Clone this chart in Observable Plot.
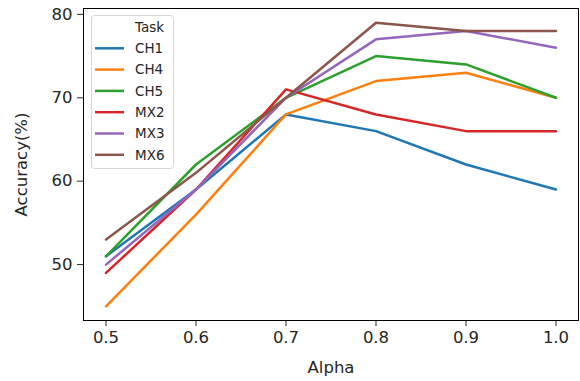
<!DOCTYPE html>
<html>
<head>
<meta charset="utf-8">
<script src="https://cdn.jsdelivr.net/npm/d3@7"></script>
<script src="https://cdn.jsdelivr.net/npm/@observablehq/plot@0.6"></script>
<style>
  html, body { margin: 0; padding: 0; background: #fff; }
  #chart { position: relative; width: 580px; height: 381px; }
  svg { font-family: "DejaVu Sans", sans-serif; }
</style>
</head>
<body>
<div id="chart"></div>
<script>
const alphas = [0.5, 0.6, 0.7, 0.8, 0.9, 1.0];
const tasks = ["CH1", "CH4", "CH5", "MX2", "MX3", "MX6"];
const colors = ["#1f77b4", "#ff7f0e", "#2ca02c", "#d62728", "#9467bd", "#8c564b"];
const CH1 = [51, 59, 68, 66, 62, 59];
const CH4 = [45, 56, 68, 72, 73, 70];
const CH5 = [51, 62, 70, 75, 74, 70];
const MX2 = [49, 59, 71, 68, 66, 66];
const MX3 = [50, 59, 70, 77, 78, 76];
const MX6 = [53, 61, 70, 79, 78, 78];
const series = {CH1, CH4, CH5, MX2, MX3, MX6};
const xTicks = [0.5, 0.6, 0.7, 0.8, 0.9, 1.0];
const yTicks = [50, 60, 70, 80];
const legendTitle = "Task";

const data = tasks.flatMap(t => alphas.map((a, i) => ({task: t, alpha: a, acc: series[t][i]})));

const plot = Plot.plot({
  width: 580,
  height: 381,
  marginLeft: 83,
  marginRight: 2,
  marginTop: 8,
  marginBottom: 61,
  style: {fontFamily: "DejaVu Sans, sans-serif", fontSize: "16.5px", color: "#262626", background: "#fff"},
  x: {domain: [0.475, 1.025], ticks: xTicks, tickFormat: d3.format(".1f"), label: "Alpha", labelArrow: "none",
      labelAnchor: "center", labelOffset: 52, tickSize: 6, tickPadding: 5},
  y: {domain: [43.3, 80.7], ticks: yTicks, label: "Accuracy(%)", labelArrow: "none",
      labelAnchor: "center", labelOffset: 68, tickSize: 6, tickPadding: 5},
  color: {domain: tasks, range: colors},
  marks: [
    Plot.lineY(data, {x: "alpha", y: "acc", z: "task", stroke: "task", strokeWidth: 2.5}),
    Plot.frame({stroke: "#000", strokeWidth: 1})
  ]
});
document.getElementById("chart").appendChild(plot);

// Legend
const svg = d3.select(plot);
const lg = svg.append("g").attr("transform", "translate(91,15)").attr("text-anchor", "start");
lg.append("rect").attr("x", 0.5).attr("y", 0.5).attr("width", 82).attr("height", 153)
  .attr("rx", 3).attr("fill", "#fff").attr("fill-opacity", 0.8).attr("stroke", "#d6d6d6");
const rows = [legendTitle, ...tasks];
rows.forEach((r, i) => {
  const cy = 12 + i * 21.3;
  if (i > 0) {
    lg.append("line").attr("x1", 4).attr("x2", 33).attr("y1", cy).attr("y2", cy)
      .attr("stroke", colors[i - 1]).attr("stroke-width", 2.5);
  }
  lg.append("text").attr("x", 44).attr("y", cy).attr("dy", "0.36em").attr("text-anchor", "start")
    .attr("font-size", "13.5px").attr("fill", "#262626").text(r);
});
</script>
</body>
</html>
